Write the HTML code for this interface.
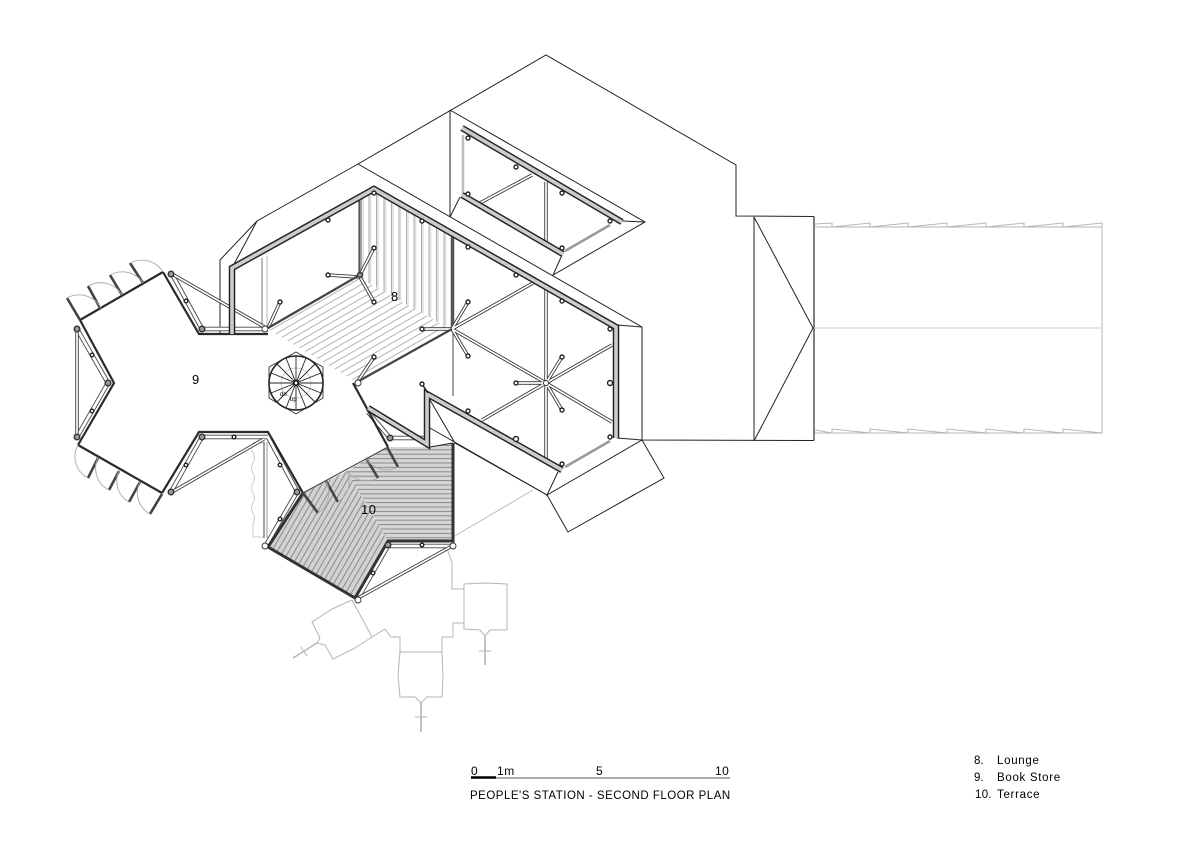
<!DOCTYPE html>
<html><head><meta charset="utf-8"><title>People's Station - Second Floor Plan</title>
<style>
html,body{margin:0;padding:0;background:#fff}
svg{display:block}
text{font-family:"Liberation Sans",sans-serif;fill:#000}
.r{fill:none;stroke:#222;stroke-width:1;stroke-linejoin:miter}
.g{fill:none;stroke:#b5b5b5;stroke-width:1}
.gl{fill:none;stroke:#ccc;stroke-width:1}
.wo{fill:none;stroke:#222;stroke-width:6.5;stroke-linejoin:miter}
.wi{fill:none;stroke:#ccc;stroke-width:3.6;stroke-linejoin:miter}
.t{fill:none;stroke:#2a2a2a;stroke-width:2.2;stroke-linejoin:miter}
.bo{fill:none;stroke:#333;stroke-width:3.4}
.bi{fill:none;stroke:#fff;stroke-width:1.7}
.to{fill:none;stroke:#444;stroke-width:4.6}
.ti{fill:none;stroke:#fff;stroke-width:2.8}
.leaf{fill:none;stroke:#444;stroke-width:2.6}
.arc{fill:none;stroke:#aaa;stroke-width:.9}
.p{fill:#fff;stroke:#222;stroke-width:1.4}
.pd{fill:#999;stroke:#333;stroke-width:1.4}
.h{fill:#fff;stroke:#333;stroke-width:.9}
</style></head><body>
<svg width="1200" height="848" viewBox="0 0 1200 848" xmlns="http://www.w3.org/2000/svg">
<defs>
<pattern id="pLounge" width="6" height="6" patternUnits="userSpaceOnUse" patternTransform="rotate(-30 268 328)"><rect width="6" height="6" fill="#fff"/><line x1="0" y1="1" x2="6" y2="1" stroke="#aaa" stroke-width=".9"/></pattern>
<pattern id="pVert" width="7.5" height="6" patternUnits="userSpaceOnUse"><rect width="7.5" height="6" fill="#fff"/><line x1="1.5" y1="0" x2="1.5" y2="6" stroke="#aaa" stroke-width="1"/><line x1="3" y1="0" x2="3" y2="6" stroke="#ddd" stroke-width="1.500"/></pattern>
<pattern id="pDiag" width="5" height="5" patternUnits="userSpaceOnUse" patternTransform="rotate(-60 300 500)"><rect width="5" height="5" fill="#d2d2d2"/><line x1="0" y1="1" x2="5" y2="1" stroke="#8a8a8a" stroke-width="1"/></pattern>
<pattern id="pHor" width="5" height="4.4" patternUnits="userSpaceOnUse"><rect width="5" height="4.4" fill="#d6d6d6"/><line x1="0" y1="1" x2="5" y2="1" stroke="#8a8a8a" stroke-width="1"/></pattern>
</defs>

<!-- hatched floors -->
<polygon points="268,329 358,277 452,330 358,383" fill="url(#pLounge)"/>
<polygon points="360,197 374,190 452,234 452,330 358,277" fill="url(#pVert)"/>
<polygon points="303,493 347,471 388,541 355,598 268,547" fill="url(#pDiag)"/>
<polygon points="347,471 388,447 428,447 453,443 453,540 388,541" fill="url(#pHor)"/>

<!-- roof lines -->
<g class="r">
<polyline points="220,334 220,260 257,221 358,164 546,55 736,165 736,216 814,216.500"/>
<polyline points="358,164 642,327 642,440 814,440.500"/>
<line x1="814" y1="216.500" x2="814" y2="440.500" stroke="#555" stroke-width="1.500"/>
<polyline points="257,221 232,268"/>
<line x1="754" y1="217" x2="754" y2="441" stroke="#555" stroke-width="1.300"/>
<polyline points="754,217 813,328 754,441"/>
<polyline points="642,327 617,325"/>
<polyline points="642,440 617,438"/>
<polyline points="642,440 547,495 558,472"/>
<polyline points="642,440 664,478 568,532 547,495 430,428"/>
<polyline points="430,400 455,443 547,495"/>
<polyline points="430,447 453,443"/>
<polyline points="450,110 450,217 460,197"/>
<polyline points="450,110 645,222 553,275 562,255"/>
<polyline points="645,222 622,221"/>
</g>
<line x1="814" y1="328" x2="1102" y2="328" class="gl"/>
<polyline class="g" points="815,227 1102,227"/>
<polyline class="g" points="815,433 1102,433"/>
<polyline class="g" points="815,224 832,223 832,227 870,223 870,227 908,223 908,227 947,223 947,227 986,223 986,227 1024,223 1024,227 1063,223 1063,227 1102,223 1102,433 1063,429 1063,433 1024,429 1024,433 986,429 986,433 947,429 947,433 908,429 908,433 870,429 870,433 832,429 832,433 815,430"/>

<!-- landscape -->
<g class="g">
<polyline points="352,600 332,609 312,622 320,638 317,643 325,645 333,659 355,648 372,637 385,629 391,637 400,637 400,652 398,675 400,697 415,697 421,703 427,697 442,697 443,675 442,652 442,637 453,637 453,623 464,623 464,584 485,583 507,584 507,630 490,630 485,636 480,630 464,629 464,589 452,589 452,563 447,548"/>
<line x1="352" y1="600" x2="372" y2="637"/>
<line x1="400" y1="652" x2="442" y2="652"/>
<line x1="421" y1="703" x2="421" y2="732" stroke-width="1.600"/>
<line x1="415" y1="717" x2="427" y2="717"/>
<line x1="485" y1="636" x2="485" y2="665" stroke-width="1.600"/>
<line x1="479" y1="651" x2="491" y2="651"/>
<line x1="317" y1="643" x2="293" y2="658" stroke-width="1.600"/>
<line x1="301" y1="647" x2="307" y2="656"/>
<line x1="453" y1="537" x2="533" y2="490" stroke="#bbb"/>
<path d="M253,443 q-3,5 0,10 q3,5 0,10 q-3,5 0,10 q3,5 0,10 q-3,5 0,10 q3,5 0,10 q-3,5 0,10 q3,5 0,10 l0,14 h11" class="gl"/>
<line x1="253" y1="443" x2="264" y2="443"/>
</g>
<line x1="264" y1="442" x2="264" y2="538" stroke="#666" stroke-width="1.200"/>
<line x1="267" y1="442" x2="267" y2="538" stroke="#999" stroke-width="1"/>
<line x1="262" y1="258" x2="262" y2="327" stroke="#777" stroke-width="1"/>
<line x1="267" y1="256" x2="267" y2="327" stroke="#ccc" stroke-width="1.500"/>

<!-- interior structure -->
<line x1="453" y1="329" x2="453" y2="396" stroke="#444" stroke-width="1"/>
<line x1="452.500" y1="236" x2="452.500" y2="330" stroke="#555" stroke-width="3.500"/>
<line x1="359.500" y1="197" x2="359.500" y2="277" stroke="#555" stroke-width="2.200"/>
<g class="bo">
<line x1="546" y1="182" x2="546" y2="242"/><line x1="480" y1="203" x2="532" y2="175"/>
<line x1="546" y1="290" x2="546" y2="458"/>
<line x1="452" y1="329" x2="533" y2="283"/><line x1="452" y1="329" x2="546" y2="383"/>
<line x1="546" y1="383" x2="612" y2="345"/><line x1="546" y1="383" x2="612" y2="422"/><line x1="546" y1="383" x2="482" y2="420"/>
<line x1="358" y1="277" x2="328" y2="275"/><line x1="360" y1="275" x2="374" y2="248"/><line x1="360" y1="277" x2="374" y2="302"/>
<line x1="452" y1="329" x2="422" y2="329"/><line x1="452" y1="329" x2="468" y2="302"/><line x1="452" y1="329" x2="468" y2="356"/>
<line x1="546" y1="383" x2="516" y2="383"/><line x1="546" y1="383" x2="562" y2="357"/><line x1="546" y1="383" x2="562" y2="410"/>
<line x1="268" y1="328" x2="280" y2="302"/><line x1="358" y1="381" x2="374" y2="357"/>
</g>
<g class="bi">
<line x1="546" y1="182" x2="546" y2="242"/><line x1="480" y1="203" x2="532" y2="175"/>
<line x1="546" y1="290" x2="546" y2="458"/>
<line x1="452" y1="329" x2="533" y2="283"/><line x1="452" y1="329" x2="546" y2="383"/>
<line x1="546" y1="383" x2="612" y2="345"/><line x1="546" y1="383" x2="612" y2="422"/><line x1="546" y1="383" x2="482" y2="420"/>
<line x1="358" y1="277" x2="328" y2="275"/><line x1="360" y1="275" x2="374" y2="248"/><line x1="360" y1="277" x2="374" y2="302"/>
<line x1="452" y1="329" x2="422" y2="329"/><line x1="452" y1="329" x2="468" y2="302"/><line x1="452" y1="329" x2="468" y2="356"/>
<line x1="546" y1="383" x2="516" y2="383"/><line x1="546" y1="383" x2="562" y2="357"/><line x1="546" y1="383" x2="562" y2="410"/>
<line x1="268" y1="328" x2="280" y2="302"/><line x1="358" y1="381" x2="374" y2="357"/>
</g>

<!-- glazing strips -->
<line x1="565" y1="467" x2="610" y2="441" stroke="#999" stroke-width="2.500"/>
<line x1="565" y1="251" x2="610" y2="225" stroke="#999" stroke-width="2.500"/>
<line x1="463" y1="135" x2="463" y2="195" stroke="#bbb" stroke-width="2.500"/>

<!-- facade frames -->
<g class="to">
<line x1="172" y1="274" x2="202" y2="329"/><line x1="202" y1="329" x2="268" y2="329"/>
<line x1="77" y1="329" x2="108" y2="383"/><line x1="108" y1="383" x2="77" y2="437"/>
<line x1="202" y1="437" x2="172" y2="490"/><line x1="202" y1="437" x2="268" y2="437"/><line x1="268" y1="437" x2="297" y2="491"/>
<line x1="297" y1="492" x2="265" y2="547"/><line x1="388" y1="546" x2="453" y2="546"/><line x1="388" y1="546" x2="358" y2="598"/>
<line x1="368" y1="412" x2="390" y2="438"/><line x1="390" y1="438" x2="425" y2="438"/>
</g>
<g class="ti">
<line x1="172" y1="274" x2="202" y2="329"/><line x1="202" y1="329" x2="268" y2="329"/>
<line x1="77" y1="329" x2="108" y2="383"/><line x1="108" y1="383" x2="77" y2="437"/>
<line x1="202" y1="437" x2="172" y2="490"/><line x1="202" y1="437" x2="268" y2="437"/><line x1="268" y1="437" x2="297" y2="491"/>
<line x1="297" y1="492" x2="265" y2="547"/><line x1="388" y1="546" x2="453" y2="546"/><line x1="388" y1="546" x2="358" y2="598"/>
<line x1="368" y1="412" x2="390" y2="438"/><line x1="390" y1="438" x2="425" y2="438"/>
</g>
<g class="bo">
<line x1="172" y1="274" x2="268" y2="329"/><line x1="77" y1="329" x2="77" y2="437"/>
<line x1="172" y1="492" x2="264" y2="439"/><line x1="358" y1="598" x2="452" y2="546"/>
</g>
<g class="bi">
<line x1="172" y1="274" x2="268" y2="329"/><line x1="77" y1="329" x2="77" y2="437"/>
<line x1="172" y1="492" x2="264" y2="439"/><line x1="358" y1="598" x2="452" y2="546"/>
</g>

<!-- thin dark walls of book store -->
<g class="t">
<polyline points="80,320 163,272"/>
<polyline points="163,272 199,334 268,334"/>
<polyline points="80,320 114,383 78,445"/>
<polyline points="78,445 162,493"/>
<polyline points="162,493 199,432 268,432 303,493"/>
<polyline points="353,383 388,447"/>
<line x1="268" y1="328" x2="358" y2="276" stroke="#444"/>
<line x1="357" y1="382" x2="452" y2="329" stroke="#444"/>
</g>
<line x1="303" y1="493" x2="388" y2="447" stroke="#444" stroke-width="1.200"/>
<polyline points="303,493 268,547 355,598 388,541 453,541 453,443" fill="none" stroke="#333" stroke-width="3"/>

<!-- main thick walls -->
<polyline class="wo" points="232,334 232,268 374,189 616,327 616,438"/>
<polyline class="wi" points="232,334 232,268 374,189 616,327 616,438"/>
<polyline class="wo" points="368,408 427,444 427,394 562,470"/>
<polyline class="wi" points="368,408 427,444 427,394 562,470"/>
<polyline class="wo" points="462,128 622,222"/><polyline class="wi" points="462,128 622,222"/>
<polyline class="wo" points="462,195 563,254"/><polyline class="wi" points="462,195 563,254"/>
<line x1="422" y1="384" x2="428" y2="393" stroke="#222" stroke-width="1.500"/>

<!-- door leaves & swings -->
<g class="leaf">
<line x1="80" y1="320" x2="67" y2="298"/><line x1="100" y1="308" x2="88" y2="286"/><line x1="122" y1="295" x2="110" y2="275"/><line x1="143" y1="283" x2="130" y2="263"/>
<line x1="98" y1="458" x2="88" y2="478"/><line x1="119" y1="471" x2="109" y2="490"/><line x1="140" y1="482" x2="129" y2="502"/><line x1="162" y1="494" x2="150" y2="514"/>
<line x1="303" y1="493" x2="318" y2="513"/><line x1="326" y1="481" x2="338" y2="502"/><line x1="366" y1="458" x2="378" y2="478"/><line x1="387" y1="447" x2="398" y2="467"/>
</g>
<g class="arc">
<path d="M67,298 A25,25 0 0 1 101,308"/><path d="M88,286 A25,25 0 0 1 122,295"/><path d="M110,275 A25,25 0 0 1 143,283"/><path d="M130,263 A25,25 0 0 1 163,272"/>
<path d="M78,445 A24,24 0 0 0 88,478"/><path d="M98,458 A24,24 0 0 0 109,490"/><path d="M119,471 A24,24 0 0 0 129,502"/><path d="M140,482 A24,24 0 0 0 150,514"/>
<path d="M318,513 A25,25 0 0 0 326,481"/><path d="M338,502 A25,25 0 0 0 347,471"/><path d="M378,478 A24,24 0 0 1 347,471"/><path d="M398,467 A24,24 0 0 1 366,458"/>
</g>

<!-- wall pins -->
<g class="p">
<circle cx="328" cy="220" r="2"/><circle cx="374" cy="193" r="2"/><circle cx="422" cy="221" r="2"/><circle cx="468" cy="247" r="2"/><circle cx="516" cy="275" r="2"/><circle cx="562" cy="301" r="2"/><circle cx="610" cy="329" r="2"/><circle cx="610" cy="383" r="2.500"/><circle cx="610" cy="437" r="2"/><circle cx="562" cy="464" r="2"/><circle cx="516" cy="439" r="2.500"/><circle cx="468" cy="411" r="2"/><circle cx="422" cy="384" r="2"/>
<circle cx="468" cy="138" r="2"/><circle cx="516" cy="167" r="2"/><circle cx="562" cy="193" r="2"/><circle cx="610" cy="221" r="2"/><circle cx="562" cy="248" r="2"/><circle cx="468" cy="194" r="2"/>
<circle cx="328" cy="275" r="2"/><circle cx="374" cy="248" r="2"/><circle cx="374" cy="302" r="2"/><circle cx="422" cy="329" r="2"/><circle cx="468" cy="302" r="2"/><circle cx="468" cy="356" r="2"/><circle cx="516" cy="383" r="2"/><circle cx="562" cy="357" r="2"/><circle cx="562" cy="410" r="2"/><circle cx="280" cy="302" r="2"/><circle cx="374" cy="357" r="2"/>
<circle cx="186" cy="301" r="1.800"/><circle cx="92" cy="355" r="1.800"/><circle cx="92" cy="411" r="1.800"/><circle cx="186" cy="465" r="1.800"/><circle cx="234" cy="437" r="1.800"/><circle cx="280" cy="465" r="1.800"/><circle cx="280" cy="519" r="1.800"/><circle cx="373" cy="573" r="1.800"/><circle cx="422" cy="545" r="1.800"/>
</g>
<g class="pd">
<circle cx="171" cy="274" r="2.800"/><circle cx="202" cy="329" r="2.800"/><circle cx="77" cy="329" r="2.800"/><circle cx="108" cy="383" r="2.800"/><circle cx="77" cy="437" r="2.800"/><circle cx="202" cy="437" r="2.800"/><circle cx="171" cy="492" r="2.800"/><circle cx="297" cy="492" r="2.800"/><circle cx="390" cy="438" r="2.800"/><circle cx="388" cy="545" r="2.800"/><circle cx="360" cy="275" r="2.500"/>
</g>
<g class="h"><circle cx="265" cy="546" r="3"/><circle cx="358" cy="600" r="3"/><circle cx="453" cy="546" r="3"/><circle cx="265" cy="329" r="3"/><circle cx="358" cy="383" r="3"/><circle cx="546" cy="383" r="2.500"/></g>

<!-- spiral stair -->
<polygon points="296,352 323,367 323,398 296,414 269,398 269,367" fill="#fff" stroke="#333" stroke-width=".9"/>
<circle cx="296" cy="383" r="15" fill="none" stroke="#bbb" stroke-width=".7"/>
<g stroke="#222" stroke-width=".9">
<line x1="296" y1="383" x2="296" y2="356"/><line x1="296" y1="383" x2="306" y2="358"/><line x1="296" y1="383" x2="315" y2="364"/><line x1="296" y1="383" x2="321" y2="373"/><line x1="296" y1="383" x2="323" y2="383"/><line x1="296" y1="383" x2="321" y2="393"/><line x1="296" y1="383" x2="315" y2="402"/><line x1="296" y1="383" x2="306" y2="408"/><line x1="296" y1="383" x2="296" y2="410"/><line x1="296" y1="383" x2="286" y2="408"/><line x1="296" y1="383" x2="277" y2="402"/><line x1="296" y1="383" x2="271" y2="393"/><line x1="296" y1="383" x2="269" y2="383"/><line x1="296" y1="383" x2="271" y2="373"/><line x1="296" y1="383" x2="277" y2="364"/><line x1="296" y1="383" x2="286" y2="358"/>
</g>
<circle cx="296" cy="383" r="27" fill="none" stroke="#222" stroke-width="1.600"/>
<circle cx="296" cy="383" r="2.200" fill="#fff" stroke="#000" stroke-width="1.500"/>
<text x="280" y="396" font-size="6">dn</text>
<text x="290" y="401" font-size="6">up</text>

<!-- labels -->
<text x="192" y="384" font-size="13">9</text>
<text x="391" y="301" font-size="13">8</text>
<text x="361" y="514" font-size="13" letter-spacing=".5">10</text>

<!-- scale -->
<line x1="471" y1="778" x2="730" y2="778" stroke="#555" stroke-width="1"/>
<line x1="471" y1="777.500" x2="496" y2="777.500" stroke="#000" stroke-width="2.500"/>
<text x="471" y="775" font-size="12">0</text>
<text x="497" y="775" font-size="12" letter-spacing=".6">1m</text>
<text x="596" y="775" font-size="12">5</text>
<text x="715" y="775" font-size="12" letter-spacing=".5">10</text>
<text x="470" y="799" font-size="11.500" letter-spacing=".5">PEOPLE'S STATION - SECOND FLOOR PLAN</text>

<!-- legend -->
<text x="974" y="764" font-size="11.500">8.</text>
<text x="997" y="764" font-size="11.500" letter-spacing=".7">Lounge</text>
<text x="974" y="781" font-size="11.500">9.</text>
<text x="997" y="781" font-size="11.500" letter-spacing=".7">Book Store</text>
<text x="975" y="798" font-size="11.500" letter-spacing=".3">10.</text>
<text x="997" y="798" font-size="11.500" letter-spacing=".7">Terrace</text>
</svg>
</body></html>
